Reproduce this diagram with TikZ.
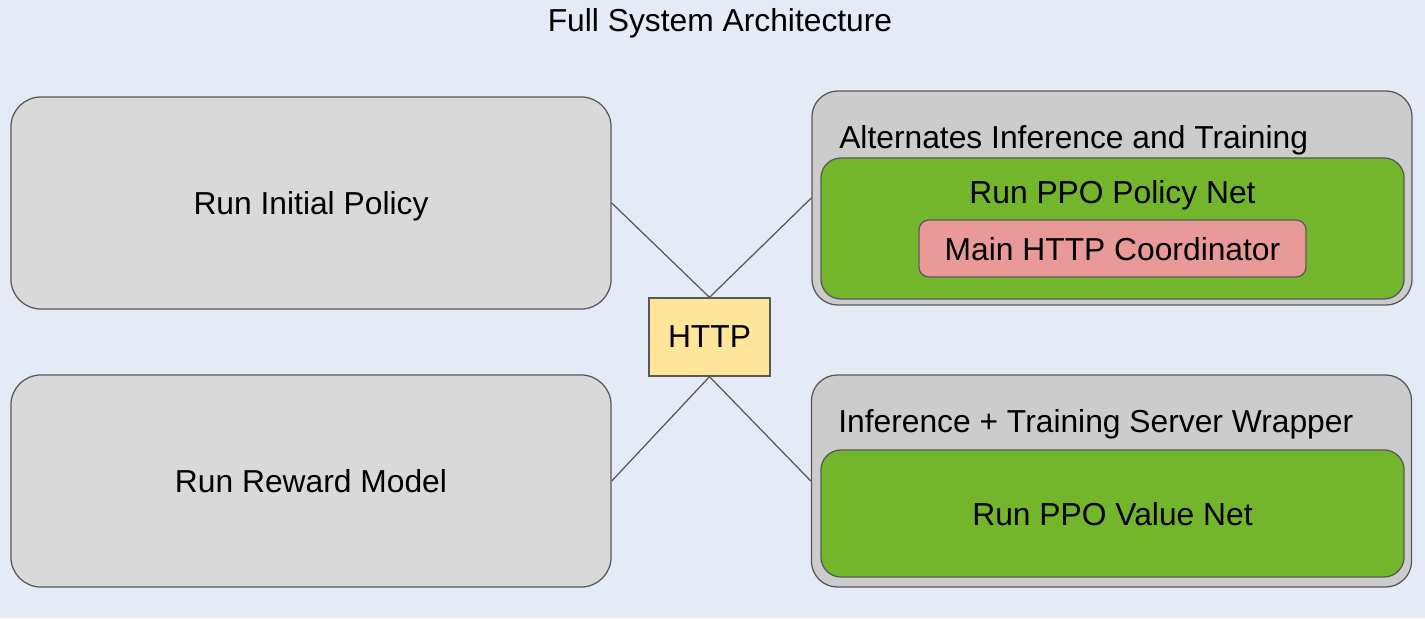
\documentclass[tikz,border=0pt]{standalone}
\usepackage{fontspec}
\setmainfont{Liberation Sans}
\usepackage{xcolor}
\usepackage{tikz}

\definecolor{bgblue}{HTML}{E4EAF6}
\definecolor{lightgray}{HTML}{D9D9D9}
\definecolor{midgray}{HTML}{CCCCCC}
\definecolor{edgegray}{HTML}{595959}
\definecolor{leafgreen}{HTML}{73B62B}
\definecolor{softred}{HTML}{EA9999}
\definecolor{paleyellow}{HTML}{FFE599}

\begin{document}
\begin{tikzpicture}[x=0.025cm, y=-0.025cm,
        every node/.style={font=\fontsize{22.6}{27}\selectfont, inner sep=0pt, text depth=0pt},
        runbox/.style={draw=edgegray, line width=0.9pt, fill=lightgray, rounded corners=0.75cm,
            minimum width=15cm, minimum height=5.3cm},
        wrapbox/.style={draw=edgegray, line width=0.9pt, fill=midgray, rounded corners=0.65cm,
            minimum width=15cm},
        netbox/.style={draw=edgegray, line width=0.9pt, fill=leafgreen, rounded corners=0.5cm,
            minimum width=14.575cm},
        link/.style={draw=edgegray, line width=0.9pt}]
        % Background
        \fill[bgblue] (0,0) rectangle (1425,618);
        \useasboundingbox (0,0) rectangle (1425,618);

        % Title
        \node (title) at (720,20) {Full System Architecture};

        % Left boxes
        \node[runbox] (initial) at (311,203) {Run Initial Policy};
        \node[runbox] (reward) at (311,481) {Run Reward Model};

        % HTTP box
        \node[draw=edgegray, line width=0.9pt, fill=paleyellow, minimum width=3.025cm,
            minimum height=1.95cm] (http) at (709.5,337) {HTTP};

        % Right top: policy
        \node[wrapbox, minimum height=5.35cm] (policywrap) at (1112,198) {};
        \node[anchor=west] (policylabel) at (839,137) {Alternates Inference and Training};
        \node[netbox, minimum height=3.525cm] (policynet) at (1112.5,228.5) {};
        \node (policytext) at (1112.5,192) {Run PPO Policy Net};
        \node[draw=edgegray, line width=0.9pt, fill=softred, rounded corners=0.25cm,
            minimum width=9.675cm, minimum height=1.425cm] (coord) at (1112.5,248.5)
            {Main HTTP Coordinator};

        % Right bottom: value
        \node[wrapbox, minimum height=5.3cm] (valuewrap) at (1111.5,481) {};
        \node[anchor=west] (valuelabel) at (838,421) {Inference + Training Server Wrapper};
        \node[netbox, minimum height=3.175cm] (valuenet) at (1112.5,513.5) {Run PPO Value Net};

        % Connectors
        \draw[link] (initial.east) -- (http.north);
        \draw[link] (policywrap.west) -- (http.north);
        \draw[link] (reward.east) -- (http.south);
        \draw[link] (valuewrap.west) -- (http.south);
    \end{tikzpicture}
\end{document}
